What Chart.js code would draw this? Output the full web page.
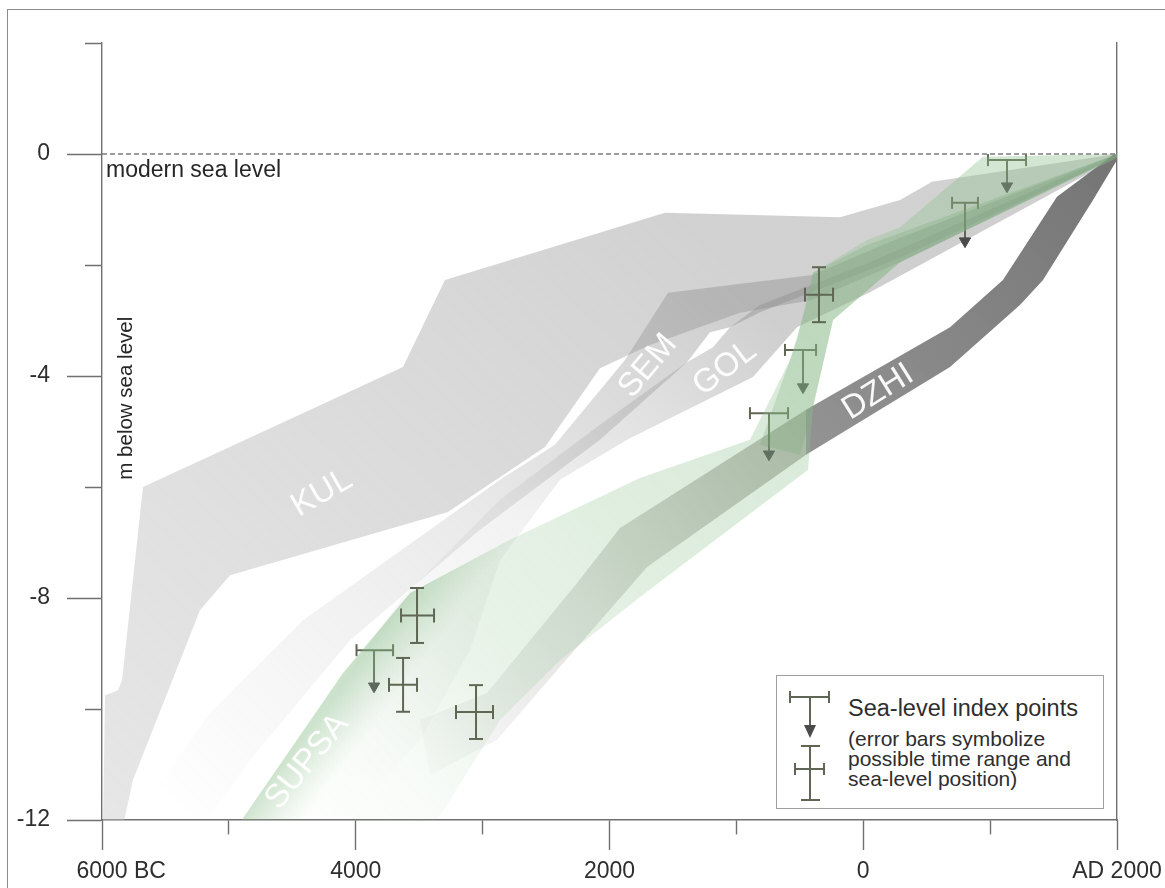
<!DOCTYPE html>
<html>
<head>
<meta charset="utf-8">
<title>Holocene sea-level curves</title>
<script src="https://cdn.jsdelivr.net/npm/chart.js@4.4.1/dist/chart.umd.min.js"></script>
<style>
  html, body { margin: 0; padding: 0; background: #ffffff; }
  #wrap { position: relative; width: 1165px; height: 888px; overflow: hidden;
          font-family: "Liberation Sans", Arial, Helvetica, sans-serif; }
  #frame { position: absolute; left: 7px; top: 9px; width: 1400px; height: 1200px;
           border-left: 1px solid #8c8c8c; border-top: 1px solid #8c8c8c; }
  #plot { position: absolute; left: 0; top: 0; }
  #legend { position: absolute; left: 776px; top: 675px; width: 326px; height: 132px;
            border: 1px solid #a0a0a0; background: #ffffff; }
  #legend svg { position: absolute; left: 0; top: 0; }
  #legend .t { position: absolute; left: 71px; color: #2e2e2e; white-space: nowrap; line-height: 1; }
</style>
</head>
<body>
<div id="wrap">
  <div id="frame"></div>
  <canvas id="plot" width="1165" height="888"></canvas>
  <div id="legend">
    <svg width="70" height="132" viewBox="0 0 70 132">
      <g stroke="#5f6754" stroke-width="2" fill="none">
        <line x1="13" y1="21" x2="52" y2="21"/>
        <line x1="13" y1="15" x2="13" y2="27"/>
        <line x1="52" y1="15" x2="52" y2="27"/>
        <line x1="33" y1="21" x2="33" y2="50"/>
        <line x1="33" y1="70" x2="33" y2="124"/>
        <line x1="24" y1="70" x2="43" y2="70"/>
        <line x1="24" y1="124" x2="43" y2="124"/>
        <line x1="18" y1="93" x2="47" y2="93"/>
        <line x1="18" y1="87" x2="18" y2="99"/>
        <line x1="47" y1="87" x2="47" y2="99"/>
      </g>
      <polygon points="27,49 39,49 33,62" fill="#4b4b4b"/>
    </svg>
    <div class="t" style="top:21px;font-size:23.5px;">Sea-level index points</div>
    <div class="t" style="top:52px;font-size:21px;">(error bars symbolize</div>
    <div class="t" style="top:72px;font-size:21px;">possible time range and</div>
    <div class="t" style="top:92px;font-size:21px;">sea-level position)</div>
  </div>
</div>
<script>
// ---- time axis (years, negative = BC) and sea level (m) ----
const xTickValues = [-6000, -4000, -2000, 0, 2000];
const xTickLabels = ['6000 BC', '4000', '2000', '0', 'AD 2000'];
const yTickValues = [0, -4, -8, -12];
const yTickLabels = ['0', '-4', '-8', '-12'];

// ---- sea-level envelopes: outline traced as year / level pairs ----
const kulYear  = [-5992, -5976, -5874, -5842, -5677, -3628, -3297, -1563, -183, 290, 542, 2000,
                  2000, 290, -404, -971, -1681, -2075, -2508, -3273, -4991, -5228, -5756, -5834];
const kulLevel = [-12.1, -9.75, -9.66, -9.48, -6.00, -3.84, -2.27, -1.06, -1.14, -0.83, -0.50, 0,
                  -0.05, -1.95, -2.63, -2.86, -3.44, -3.86, -5.28, -6.45, -7.59, -8.22, -11.28, -12.1];

const semYear  = [2000, 290, -404, -1539, -1878, -2430, -2863, -4416, -5149, -5700, -5780,
                  -5228, -4833, -4045, -3021, -2075, -1389, -1208, -1050, -814, 290, 2000];
const semLevel = [0, -1.51, -2.18, -2.50, -3.71, -5.24, -5.87, -8.40, -10.07, -11.82, -12.2,
                  -12.2, -10.92, -8.76, -6.77, -5.15, -3.75, -3.21, -3.12, -2.85, -1.87, -0.05];

const golYear  = [2000, 53, -814, -1050, -1184, -1389, -2075, -2863, -3651, -4203, -4500,
                  -3800, -3494, -3100, -2863, -2390, -1862, -869, -522, 53, 2000];
const golLevel = [0, -1.95, -2.72, -3.12, -3.48, -3.75, -4.88, -6.23, -8.04, -9.84, -11.0,
                  -11.3, -10.56, -8.94, -7.32, -5.87, -5.15, -4.02, -3.12, -2.49, -0.07];

const dzhiYear  = [-451, 684, 1101, 1527, 1968, 2000, 2000, 1811, 1417, 1235, 684, -451];
const dzhiLevel = [-4.61, -3.12, -2.27, -0.77, -0.02, 0, -0.11, -0.83, -2.27, -2.72, -3.84, -5.42];

const dzhiOldYear  = [-451, -1917, -2256, -2966, -3494, -3415, -2887, -2390, -1704, -451];
const dzhiOldLevel = [-4.61, -6.74, -7.73, -9.71, -10.20, -11.19, -10.56, -9.24, -7.44, -5.42];

const supsaYear  = [-4929, -4100, -3572, -2784, -1760, -893, -577, -459, -396, 30, 290, 944, 2000,
                    2000, 290, -238, -396, -435, -1760, -2390, -2863, -3257, -3415];
const supsaLevel = [-12.1, -9.35, -7.91, -6.95, -5.84, -5.15, -3.71, -2.81, -2.14, -1.55, -1.32, -0.05, 0,
                    -0.07, -1.95, -2.99, -4.56, -5.69, -7.98, -9.12, -10.2, -11.64, -12.2];

// darker strip along the upper edge of the older SUPSA part
const supsaEdgeYear  = [-4929, -4100, -3572, -2784, -1760, -2075, -2863, -3415, -3809, -4203];
const supsaEdgeLevel = [-12.1, -9.35, -7.91, -6.95, -5.84, -6.77, -7.86, -8.94, -10.2, -12.2];

const supsaCoreYear  = [-814, -522, -396, 30, 2000, 2000, 290, -238, -396, -498];
const supsaCoreLevel = [-5.24, -3.35, -2.14, -1.64, 0, -0.05, -1.95, -2.99, -4.56, -5.42];

// ---- sea-level index points ----
// dated points with age range and level range
const pointYear     = [-349, -3517, -3627, -3052];
const pointYearLo   = [-459, -3643, -3738, -3210];
const pointYearHi   = [-238, -3383, -3517, -2918];
const pointLevelLo  = [-3.03, -8.81, -10.05, -10.54];
const pointLevelHi  = [-2.04, -7.82, -9.08, -9.57];
// limiting points: level is an upper bound (sea level lay lower)
const limitYear     = [-475, -743, 1133, 802, -3856];
const limitYearLo   = [-617, -893, 983, 700, -3994];
const limitYearHi   = [-372, -593, 1283, 904, -3706];
const limitLevel    = [-3.53, -4.67, -0.11, -0.88, -8.94];
const limitArrowTo  = [-4.20, -5.41, -0.58, -1.57, -9.59];

const seaLevelNow = [{x: -6000, y: 0}, {x: 2000, y: 0}];

// ---- envelope names and where their names are written ----
const bandNames = ['KUL', 'SEM', 'GOL', 'DZHI', 'SUPSA'];
const bandNameAt = [
  {x: -4266, y: -6.11, angle: -30},
  {x: -1697, y: -3.82, angle: -50},
  {x: -1090, y: -3.86, angle: -37},
  {x: 116,   y: -4.29, angle: -32},
  {x: -4384, y: -10.95, angle: -51}
];

// ---------------------------------------------------------------
const FONT = '"Liberation Sans", Arial, Helvetica, sans-serif';
Chart.defaults.font.family = FONT;
Chart.defaults.color = '#2e2e2e';

const AXIS = '#707070';
const BAR = '#5f6754';
const HEAD = '#4b4b4b';

function outline(years, levels) {
  return years.map((x, i) => ({x: x, y: levels[i]}));
}

// linear gradient running between two data positions
function ramp(from, to, stops) {
  return function (ctx) {
    const chart = ctx.chart;
    if (!chart.chartArea) return stops[stops.length - 1][1];
    const sx = chart.scales.x, sy = chart.scales.y;
    const g = chart.ctx.createLinearGradient(
      sx.getPixelForValue(from[0]), sy.getPixelForValue(from[1]),
      sx.getPixelForValue(to[0]), sy.getPixelForValue(to[1]));
    stops.forEach(s => g.addColorStop(s[0], s[1]));
    return g;
  };
}

function band(label, years, levels, fill, order) {
  return {
    label: label, type: 'line', data: outline(years, levels),
    fill: 'shape', backgroundColor: fill,
    borderColor: 'rgba(0,0,0,0)', borderWidth: 0,
    pointRadius: 0, tension: 0, order: order
  };
}

// vertical ranges with horizontal end caps, horizontal ranges with vertical caps
function rangeSegments(keyFixed, fixed, lo, hi, horizontal) {
  const pts = [];
  fixed.forEach((f, i) => {
    if (horizontal) {
      pts.push({x: lo[i], y: keyFixed[i]}, {x: hi[i], y: keyFixed[i]}, {x: hi[i], y: null});
    } else {
      pts.push({x: f, y: lo[i]}, {x: f, y: hi[i]}, {x: f, y: null});
    }
  });
  return pts;
}

const crossVertical = rangeSegments(null, pointYear, pointLevelLo, pointLevelHi, false);
const crossHorizontal = rangeSegments(pointLevelLo.map((l, i) => (l + pointLevelHi[i]) / 2),
                                      pointYear, pointYearLo, pointYearHi, true);
const limitBars = rangeSegments(limitLevel, limitYear, limitYearLo, limitYearHi, true);
const limitStems = [];
limitYear.forEach((y, i) => {
  limitStems.push({x: y, y: limitLevel[i]}, {x: y, y: limitArrowTo[i]}, {x: y, y: null});
});

function rangeSet(label, data, capRotation, order, color) {
  return {
    label: label, type: 'line', data: data, order: order,
    borderColor: color, borderWidth: 2, fill: false, spanGaps: false, tension: 0,
    pointStyle: 'line', pointRotation: capRotation,
    pointRadius: c => (c.raw && c.raw.y !== null) ? 7 : 0,
    pointBorderColor: color, pointBorderWidth: 2, pointBackgroundColor: color
  };
}

const datasets = [
  band('KUL', kulYear, kulLevel,
       ramp([-6000, -12], [-1500, -1], [[0, 'rgba(200,200,200,0.45)'], [1, 'rgba(188,188,188,0.68)']]), 90),
  band('SEM', semYear, semLevel,
       ramp([-5400, -12], [-1200, -2.4], [[0, 'rgba(150,150,150,0.0)'], [0.55, 'rgba(150,150,150,0.2)'], [1, 'rgba(140,140,140,0.42)']]), 80),
  band('GOL', golYear, golLevel,
       ramp([-4300, -11], [-800, -2.8], [[0, 'rgba(150,150,150,0.0)'], [0.5, 'rgba(150,150,150,0.12)'], [1, 'rgba(140,140,140,0.42)']]), 70),
  band('DZHI older', dzhiOldYear, dzhiOldLevel,
       ramp([-3600, -10.8], [-450, -5], [[0, 'rgba(150,150,150,0.03)'], [0.45, 'rgba(145,145,140,0.28)'], [1, 'rgba(135,135,125,0.62)']]), 60),
  band('DZHI', dzhiYear, dzhiLevel,
       ramp([-450, -5], [2000, 0], [[0, 'rgba(140,140,140,0.95)'], [1, 'rgba(112,112,112,0.97)']]), 55),
  {
    label: 'limiting bars', type: 'line', data: limitBars, order: 50,
    borderColor: BAR, borderWidth: 2, fill: false, spanGaps: false, tension: 0,
    pointStyle: 'line', pointRotation: 90,
    pointRadius: c => (c.raw && c.raw.y !== null) ? 6 : 0,
    pointBorderColor: BAR, pointBorderWidth: 2
  },
  {
    label: 'limiting arrows', type: 'line', data: limitStems, order: 49,
    borderColor: BAR, borderWidth: 2, fill: false, spanGaps: false, tension: 0,
    pointStyle: 'triangle', pointRotation: 180,
    pointRadius: c => (c.raw && c.raw.y !== null && c.dataIndex % 3 === 1) ? 6.5 : 0,
    pointBorderColor: HEAD, pointBackgroundColor: HEAD, pointBorderWidth: 1
  },
  band('SUPSA', supsaYear, supsaLevel,
       ramp([-4439, -12], [2000, 0], [[0, 'rgba(160,205,160,0.02)'], [0.12, 'rgba(155,202,155,0.08)'],
                                      [0.22, 'rgba(150,200,150,0.20)'], [0.45, 'rgba(145,195,145,0.30)'],
                                      [1, 'rgba(140,190,140,0.40)']]), 42),
  band('SUPSA edge', supsaEdgeYear, supsaEdgeLevel,
       ramp([-3572, -7.91], [-3100, -8.72], [[0, 'rgba(130,185,130,0.38)'], [0.45, 'rgba(140,190,140,0.12)'], [0.68, 'rgba(150,200,150,0)'], [1, 'rgba(150,200,150,0)']]), 41),
  band('SUPSA core', supsaCoreYear, supsaCoreLevel,
       ramp([-800, -5.3], [2000, 0], [[0, 'rgba(120,170,120,0.26)'], [1, 'rgba(120,170,120,0.32)']]), 35),
  {
    label: 'modern sea level', type: 'line', data: seaLevelNow, order: 20,
    borderColor: '#7c7c7c', borderWidth: 1.3, borderDash: [5, 3], pointRadius: 0, fill: false
  },
  rangeSet('age ranges', crossHorizontal, 90, 10, BAR),
  rangeSet('level ranges', crossVertical, 0, 9, BAR)
];

// white names written along the envelopes, and the two free-standing notes
const annotations = {
  id: 'annotations',
  afterDatasetsDraw(chart) {
    const ctx = chart.ctx, sx = chart.scales.x, sy = chart.scales.y;
    ctx.save();
    ctx.fillStyle = 'rgba(255,255,255,0.95)';
    ctx.font = '33px ' + FONT;
    ctx.textAlign = 'center';
    ctx.textBaseline = 'middle';
    bandNames.forEach((name, i) => {
      const a = bandNameAt[i];
      ctx.save();
      ctx.translate(sx.getPixelForValue(a.x), sy.getPixelForValue(a.y));
      ctx.rotate(a.angle * Math.PI / 180);
      ctx.fillText(name, 0, 0);
      ctx.restore();
    });
    ctx.fillStyle = '#262626';
    ctx.textAlign = 'left';
    ctx.textBaseline = 'alphabetic';
    ctx.font = '23px ' + FONT;
    ctx.fillText('modern sea level', sx.left + 4, sy.getPixelForValue(0) + 23);
    ctx.save();
    ctx.translate(sx.left + 30, sy.getPixelForValue(-4.4));
    ctx.rotate(-Math.PI / 2);
    ctx.textAlign = 'center';
    ctx.font = '20.5px ' + FONT;
    ctx.fillText('m below sea level', 0, 0);
    ctx.restore();
    ctx.restore();
  }
};

new Chart(document.getElementById('plot'), {
  type: 'line',
  data: {datasets: datasets},
  plugins: [annotations],
  options: {
    responsive: false,
    animation: false,
    events: [],
    layout: {padding: {left: 0, top: 43, right: 48, bottom: 0}},
    plugins: {legend: {display: false}, tooltip: {enabled: false}},
    scales: {
      x: {
        type: 'linear', min: -6000, max: 2000,
        afterBuildTicks: s => { s.ticks = [-6000, -5000, -4000, -3000, -2000, -1000, 0, 1000, 2000].map(v => ({value: v})); },
        afterFit: s => { s.height = 68; s.paddingLeft = 0; s.paddingRight = 0; },
        ticks: {
          autoSkip: false, maxRotation: 0, padding: 8,
          font: {size: 23}, color: '#2e2e2e',
          callback: v => {
            const i = xTickValues.indexOf(v);
            if (i < 0) return '';
            return i === 0 ? '      ' + xTickLabels[i] : xTickLabels[i];
          }
        },
        grid: {
          drawOnChartArea: false, drawTicks: true, tickLength: 30,
          tickColor: AXIS, tickWidth: 1.4,
          tickBorderDash: c => (c.tick && xTickValues.indexOf(c.tick.value) < 0) ? [14, 100] : []
        },
        border: {display: true, color: AXIS, width: 1.4}
      },
      y: {
        type: 'linear', position: 'left', min: -12, max: 2,
        afterBuildTicks: s => { s.ticks = [-12, -10, -8, -6, -4, -2, 0, 2].map(v => ({value: v})); },
        afterFit: s => { s.width = 102; s.paddingTop = 0; s.paddingBottom = 0; },
        ticks: {
          autoSkip: false, padding: 17,
          font: {size: 23}, color: '#2e2e2e',
          callback: v => {
            const i = yTickValues.indexOf(v);
            return i < 0 ? '' : yTickLabels[i];
          }
        },
        grid: {
          drawOnChartArea: false, drawTicks: true, tickLength: 35,
          tickColor: AXIS, tickWidth: 1.4,
          tickBorderDash: c => (c.tick && yTickValues.indexOf(c.tick.value) < 0) ? [0, 18, 17, 100] : []
        },
        border: {display: true, color: AXIS, width: 1.4}
      },
      yRight: {
        type: 'linear', position: 'right', min: -12, max: 2,
        afterFit: s => { s.width = 0; },
        ticks: {display: false},
        grid: {drawOnChartArea: false, drawTicks: false},
        border: {display: true, color: AXIS, width: 1.4}
      }
    }
  }
});
</script>
</body>
</html>
